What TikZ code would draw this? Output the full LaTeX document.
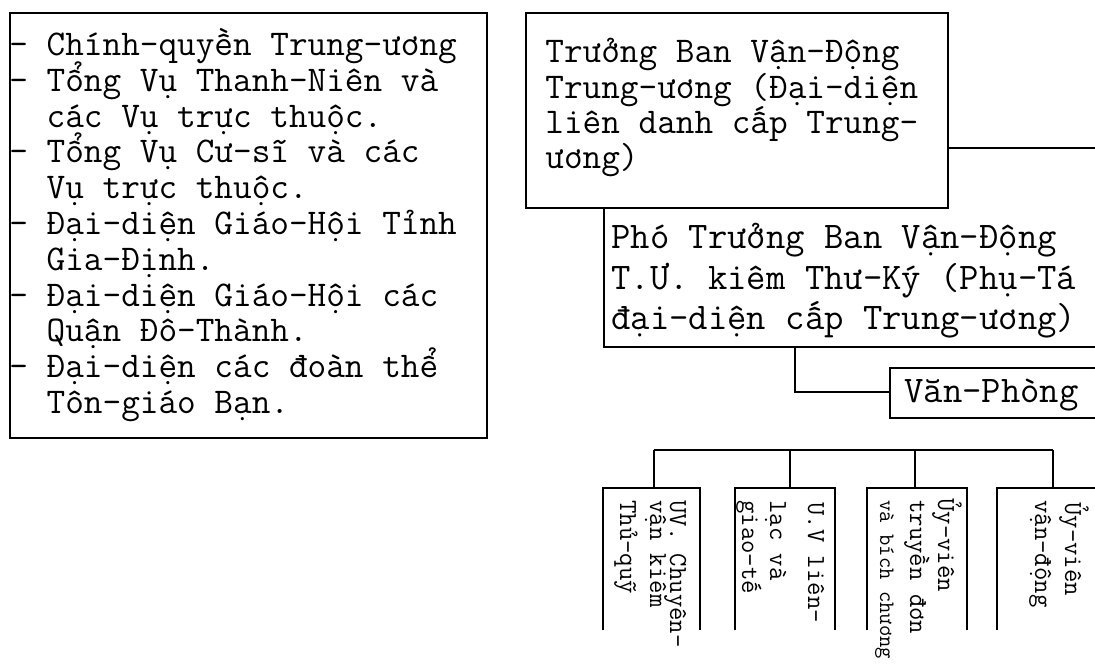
\documentclass[tikz,border=0pt]{standalone}
\usepackage{fontspec}
\begin{document}
\begin{tikzpicture}[x=0.5pt,y=-0.5pt,
  frame/.style={draw=black, line width=1pt},
  txt/.style={inner sep=0pt, anchor=base west, font=\ttfamily\fontsize{18.1}{18}\selectfont},
  txtb/.style={inner sep=0pt, anchor=base west, font=\ttfamily\fontsize{18.8}{18}\selectfont},
  vtxt/.style={inner sep=0pt, anchor=base west, rotate=-90, font=\ttfamily\fontsize{13}{13}\selectfont},
  vtxts/.style={vtxt, font=\ttfamily\fontsize{11}{11}\selectfont}]
\useasboundingbox (0,0) rectangle (1095,664);
\fill[white] (0,0) rectangle (1095,664);

% ---------- left box ----------
\coordinate (LBnw) at (10,13);
\coordinate (LBse) at (487,438);
\draw[frame] (LBnw) rectangle (LBse);
\foreach \yy/\s [count=\i] in {
  55/{-~Chính-quyền Trung-ương},
  91/{-~Tổng Vụ Thanh-Niên và},
  127/{\phantom{-~}các Vụ trực thuộc.},
  162/{-~Tổng Vụ Cư-sĩ và các},
  198/{\phantom{-~}Vụ trực thuộc.},
  234/{-~Đại-diện Giáo-Hội Tỉnh},
  270/{\phantom{-~}Gia-Định.},
  306/{-~Đại-diện Giáo-Hội các},
  341/{\phantom{-~}Quận Đô-Thành.},
  377/{-~Đại-diện các đoàn thể},
  413/{\phantom{-~}Tôn-giáo Bạn.}}
  \node[txt] (L\i) at (9,\yy) {\s};

% ---------- top box ----------
\coordinate (TBnw) at (526,13);
\coordinate (TBse) at (948,208);
\draw[frame] (TBnw) rectangle (TBse);
\foreach \yy/\s [count=\i] in {
  62/{Trưởng Ban Vận-Động},
  98/{Trung-ương (Đại-diện},
  133/{liên danh cấp Trung-},
  168/{ương)}}
  \node[txt] (T\i) at (545,\yy) {\s};
\coordinate (TBr) at (948,148);
\coordinate (TBout) at (1095,148);
\draw[frame] (TBr) -- (TBout);

% ---------- Pho Truong Ban box ----------
\coordinate (PBtop) at (604,208);
\coordinate (PBsw) at (604,347);
\coordinate (PBse) at (1095,347);
\draw[frame] (PBtop) -- (PBsw) -- (PBse);
\foreach \yy/\s [count=\i] in {
  248/{Phó Trưởng Ban Vận-Động},
  289/{T.Ư. kiêm Thư-Ký (Phụ-Tá},
  329/{đại-diện cấp Trung-ương)}}
  \node[txtb] (P\i) at (611,\yy) {\s};

% ---------- Van-Phong ----------
\coordinate (PBdrop) at (795,347);
\coordinate (VPw) at (890,392);
\coordinate (VPnw) at (890,368);
\coordinate (VPsw) at (890,418);
\coordinate (VPne) at (1095,368);
\coordinate (VPse) at (1095,418);
\draw[frame] (VPne) -- (VPnw) -- (VPsw) -- (VPse);
\draw[frame] (PBdrop) |- (VPw);
\node[txtb] (VP) at (904,402) {Văn-Phòng};

% ---------- bottom bar and boxes ----------
\coordinate (BarL) at (654,450);
\coordinate (BarR) at (1053,450);
\draw[frame] (BarL) -- (BarR);
\foreach \xx [count=\i] in {654,790,915,1053} {
  \coordinate (D\i) at (\xx,450);
  \coordinate (E\i) at (\xx,488);
  \draw[frame] (D\i) -- (E\i);
}
\foreach \xa/\xb [count=\i] in {603/700,735/835,867/967} {
  \coordinate (B\i a) at (\xa,630);
  \coordinate (B\i b) at (\xa,488);
  \coordinate (B\i c) at (\xb,488);
  \coordinate (B\i d) at (\xb,630);
  \draw[frame] (B\i a) -- (B\i b) -- (B\i c) -- (B\i d);
}
\coordinate (B4a) at (997,630);
\coordinate (B4b) at (997,488);
\coordinate (B4c) at (1095,488);
\draw[frame] (B4a) -- (B4b) -- (B4c);

\node[vtxt] (V1a) at (670,500) {UV. Chuyên-};
\node[vtxt] (V1b) at (650,500) {vận kiêm};
\node[vtxt] (V1c) at (620,500) {Thủ-quỹ};

\node[vtxt] (V2a) at (808,502) {U.V liên-};
\node[vtxt] (V2b) at (770,500) {lạc và};
\node[vtxt] (V2c) at (742,500) {giao-tế};

\node[vtxt] (V3a) at (938,498) {Ủy-viên};
\node[vtxt] (V3b) at (910,500) {truyền đơn};
\node[vtxts] (V3c) at (880,500) {và bích chương};

\node[vtxt] (V4a) at (1065,502) {Ủy-viên};
\node[vtxt] (V4b) at (1035,500) {vận-động};
\end{tikzpicture}
\end{document}
